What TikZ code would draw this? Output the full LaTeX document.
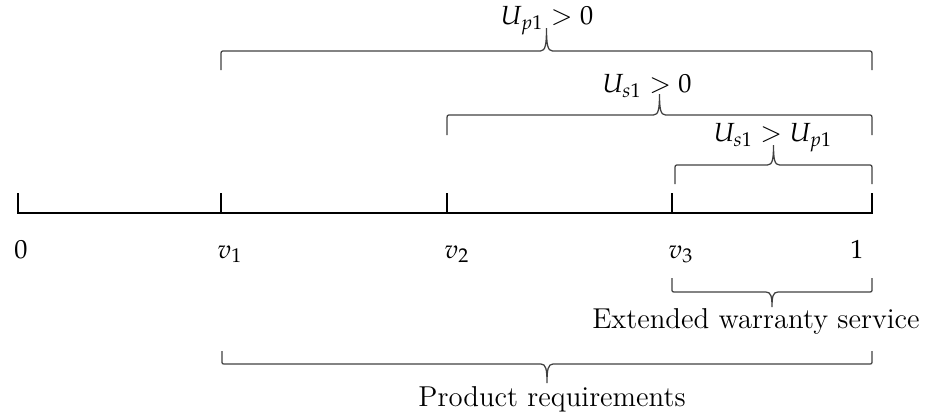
\documentclass[tikz,border=0pt]{standalone}
\usepackage{mathpazo}
\usetikzlibrary{calc}
\tikzset{
  curly/.style 2 args={to path={let \p1=(\tikztostart),\p2=(\tikztotarget),
      \p3=($(\tikztostart)!0.5!(\tikztotarget)$) in
      (\p1) -- (\x1,{\y1+(#1)*0.75})
      .. controls (\x1,{\y1+(#1)}) .. (\x1+1.6pt,{\y1+(#1)})
      -- (\x3-2.4pt,{\y1+(#1)})
      .. controls (\x3-0.4pt,{\y1+(#1)}) and (\x3,{\y1+(#1)+0.3*(#2)}) .. (\x3,{\y1+(#1)+(#2)})
      .. controls (\x3,{\y1+(#1)+0.3*(#2)}) and (\x3+0.4pt,{\y1+(#1)}) .. (\x3+2.4pt,{\y1+(#1)})
      -- (\x2-1.6pt,{\y1+(#1)})
      .. controls (\x2,{\y1+(#1)}) .. (\x2,{\y1+(#1)*0.75})
      -- (\p2)}},
  bracepath/.style={draw=black!75, line width=0.5pt},
  axis/.style={draw=black, line width=0.9pt},
  mlab/.style={inner sep=1pt, font=\fontsize{10.5}{12}\selectfont},
  tlab/.style={inner sep=1pt, anchor=base, font=\fontsize{11.5}{13}\selectfont},
}
\begin{document}
\begin{tikzpicture}[x=0.4pt,y=-0.4pt]
\useasboundingbox (0,0) rectangle (933,415);
% axis ticks
\coordinate (t0) at (18,213);
\coordinate (t1) at (221,213);
\coordinate (t2) at (447,213);
\coordinate (t3) at (672,213);
\coordinate (t4) at (872,213);
\draw[axis] ($(t0)+(0,-20)$) -- (t0) -- (t4) -- ($(t4)+(0,-20)$);
\draw[axis] (t1) -- ($(t1)+(0,-20)$);
\draw[axis] (t2) -- ($(t2)+(0,-20)$);
\draw[axis] (t3) -- ($(t3)+(0,-20)$);
% tick labels
\node[mlab, anchor=base] (l0) at (21,258) {$0$};
\node[mlab, anchor=base] (l1) at (230,258) {$v_1$};
\node[mlab, anchor=base] (l2) at (457,258) {$v_2$};
\node[mlab, anchor=base] (l3) at (681,258) {$v_3$};
\node[mlab, anchor=base] (l4) at (857,258) {$1$};
% brace ends
\coordinate (b1a) at (221,70);  \coordinate (b1b) at (872,70);
\coordinate (b2a) at (447,135); \coordinate (b2b) at (872,135);
\coordinate (b3a) at (675,184); \coordinate (b3b) at (872,184);
\coordinate (b4a) at (672,278); \coordinate (b4b) at (872,278);
\coordinate (b5a) at (222,351); \coordinate (b5b) at (872,351);
\draw[bracepath] (b1a) to[curly={7.6pt}{9.2pt}] (b1b);
\draw[bracepath] (b2a) to[curly={8pt}{8.4pt}] (b2b);
\draw[bracepath] (b3a) to[curly={7.6pt}{8pt}] (b3b);
\draw[bracepath] (b4a) to[curly={-5.6pt}{-6pt}] (b4b);
\draw[bracepath] (b5a) to[curly={-5.2pt}{-7.6pt}] (b5b);
% labels
\node[mlab] (u1) at (547,21) {$U_{p1} > 0$};
\node[mlab] (u2) at (647,86) {$U_{s1} > 0$};
\node[mlab] (u3) at (773,138) {$U_{s1} > U_{p1}$};
\node[tlab] (ew) at (756,328) {Extended warranty service};
\node[tlab] (pr) at (552,406) {Product requirements};
\end{tikzpicture}
\end{document}
